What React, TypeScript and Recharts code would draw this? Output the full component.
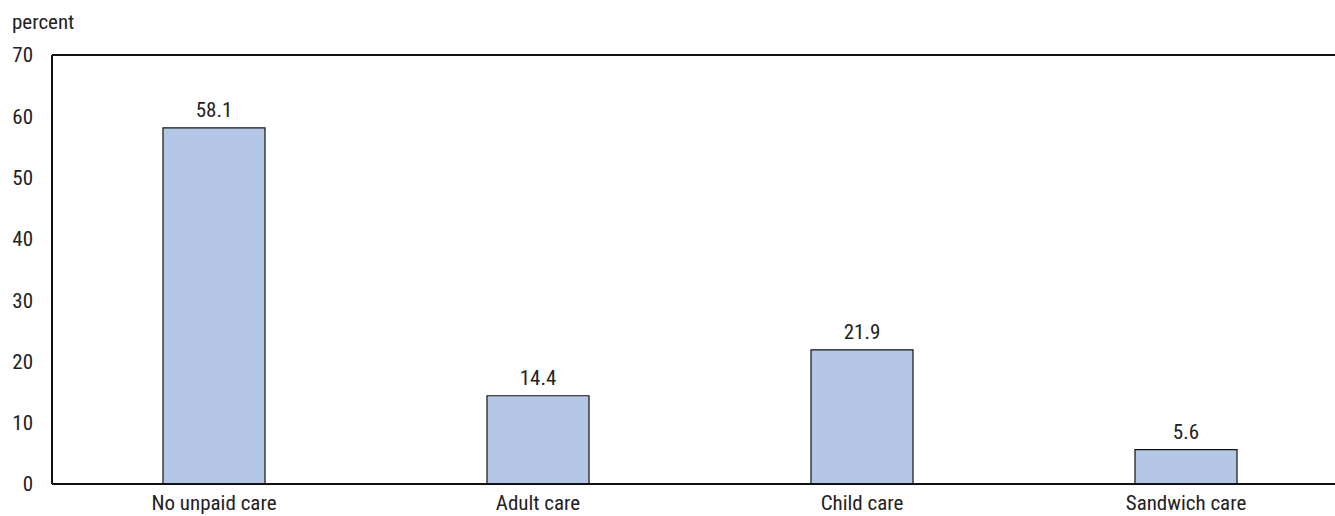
import { Bar, BarChart, LabelList, ReferenceLine, XAxis, YAxis } from "recharts";

const categories = ["No unpaid care", "Adult care", "Child care", "Sandwich care"];
const shares = [58.1, 14.4, 21.9, 5.6];
const yTicks = [0, 10, 20, 30, 40, 50, 60, 70];

const data = categories.map((name, i) => ({ name, value: shares[i] }));

const font = "'Liberation Sans Narrow', 'Roboto Condensed', 'DejaVu Sans Condensed', sans-serif";

export default function App() {
    return (
        <div
            style={{
                position: "fixed",
                left: 0,
                top: 0,
                width: 1335,
                height: 516,
                overflow: "hidden",
                background: "#fff",
                fontFamily: font,
            }}
        >
            <div style={{ position: "absolute", left: 12, top: 10, fontSize: 21, lineHeight: "24px", color: "#222" }}>percent</div>
            <BarChart
                width={1348}
                height={516}
                data={data}
                margin={{ top: 55, right: 0, bottom: 0, left: 0 }}
                barCategoryGap={0}
            >
                <XAxis
                    dataKey="name"
                    height={32}
                    tickLine={false}
                    tickSize={0}
                    tickMargin={11}
                    axisLine={{ stroke: "#111", strokeWidth: 2 }}
                    tick={{ fill: "#222", fontSize: 21, fontFamily: font }}
                    interval={0}
                />
                <YAxis
                    domain={[0, 70]}
                    ticks={yTicks}
                    width={52}
                    tickLine={false}
                    tickSize={0}
                    tickMargin={19}
                    axisLine={{ stroke: "#111", strokeWidth: 2 }}
                    tick={{ fill: "#222", fontSize: 21, fontFamily: font }}
                />
                <ReferenceLine y={70} stroke="#111" strokeWidth={2} />
                <Bar dataKey="value" fill="#b4c7e7" stroke="#111" strokeWidth={1.2} barSize={102} isAnimationActive={false}>
                    <LabelList dataKey="value" position="top" offset={11} fill="#222" fontSize={21} fontFamily={font} />
                </Bar>
            </BarChart>
        </div>
    );
}
